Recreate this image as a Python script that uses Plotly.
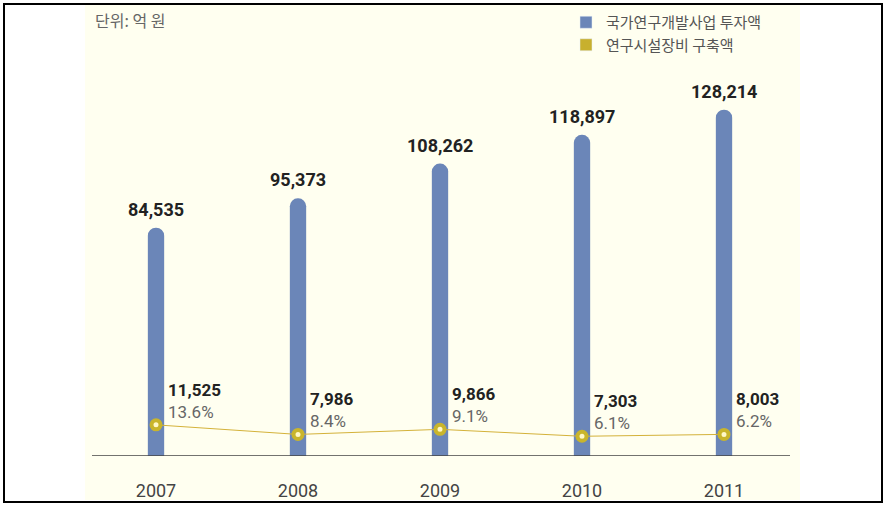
import plotly.graph_objects as go

years = ["2007", "2008", "2009", "2010", "2011"]
rnd_invest = [84535, 95373, 108262, 118897, 128214]
equip_invest = [11525, 7986, 9866, 7303, 8003]
equip_pct = ["13.6%", "8.4%", "9.1%", "6.1%", "6.2%"]

name_bar = "국가연구개발사업 투자액"
name_line = "연구시설장비 구축액"
unit_text = "단위: 억 원"

BLUE = "#6b86b8"
GOLD = "#c8b02e"
CREAM = "#fffff0"
KFONT = "Noto Sans CJK KR"
NFONT = "Roboto"

fig = go.Figure()

fig.add_trace(go.Bar(
    x=years, y=rnd_invest, name=name_bar,
    marker=dict(color=BLUE, cornerradius=8, line=dict(width=0)),
    width=0.115, showlegend=False,
))
# legend swatches (square, like the reference)
fig.add_trace(go.Bar(x=[None], y=[None], name=name_bar,
                     marker=dict(color=BLUE), showlegend=True))
fig.add_trace(go.Bar(x=[None], y=[None], name=name_line,
                     marker=dict(color=GOLD), showlegend=True))
fig.add_trace(go.Scatter(
    x=years, y=equip_invest, mode="lines+markers", name=name_line,
    line=dict(color="#d4b23a", width=1),
    marker=dict(size=9, color="#fff8c8", line=dict(color="#c9b52c", width=4)),
    showlegend=False,
))

annotations = []
for i, v in enumerate(rnd_invest):
    annotations.append(dict(
        x=i, y=v, xref="x", yref="y", text=f"{v:,}", showarrow=False,
        yanchor="bottom", yshift=6,
        font=dict(family=NFONT, size=18, color="#222222", weight="bold"),
    ))
for i, (v, p) in enumerate(zip(equip_invest, equip_pct)):
    annotations.append(dict(
        x=i, y=v, xref="x", yref="y", text=f"{v:,}", showarrow=False,
        xanchor="left", yanchor="middle", xshift=10, yshift=35,
        font=dict(family=NFONT, size=17, color="#222222", weight="bold"),
    ))
    annotations.append(dict(
        x=i, y=v, xref="x", yref="y", text=p, showarrow=False,
        xanchor="left", yanchor="middle", xshift=10, yshift=13,
        font=dict(family=NFONT, size=17, color="#666666"),
    ))
annotations.append(dict(
    x=(93 - 85) / 710, y=(456 - 20) / 416, xref="paper", yref="paper",
    text=unit_text, showarrow=False, xanchor="left", yanchor="middle",
    font=dict(family=KFONT, size=16, color="#666666"),
))

shapes = [
    # cream background panel
    dict(type="rect", xref="paper", yref="paper",
         x0=0, x1=(800 - 85) / 710, y0=(456 - 500) / 416, y1=(456 - 4) / 416,
         fillcolor=CREAM, line=dict(width=0), layer="below"),
    # baseline
    dict(type="line", xref="paper", yref="y",
         x0=(92 - 85) / 710, x1=(790 - 85) / 710, y0=0, y1=0,
         line=dict(color="#444444", width=1.5), layer="above"),
    # outer frame
    dict(type="rect", xref="paper", yref="paper",
         x0=(4 - 85) / 710, x1=(882 - 85) / 710,
         y0=(456 - 502) / 416, y1=(456 - 4) / 416,
         line=dict(color="#000000", width=2), layer="above"),
]

fig.update_layout(
    width=887, height=509,
    margin=dict(l=85, r=92, t=40, b=53, autoexpand=False),
    paper_bgcolor="white", plot_bgcolor="rgba(0,0,0,0)",
    barmode="overlay",
    showlegend=True,
    legend=dict(
        x=(566 - 85) / 710, y=(456 - 6) / 416, xanchor="left", yanchor="top",
        bgcolor="rgba(0,0,0,0)", font=dict(family=KFONT, size=15, color="#555555"),
        tracegroupgap=0, itemclick=False,
    ),
    xaxis=dict(
        type="category", range=[-0.5, 4.5], showgrid=False, showline=False,
        zeroline=False, ticks="", ticklabelstandoff=22, automargin=False,
        tickfont=dict(family=NFONT, size=18, color="#444444"),
    ),
    yaxis=dict(range=[0, 154000], visible=False, automargin=False),
    annotations=annotations,
    shapes=shapes,
)

fig.write_html("out.html")
